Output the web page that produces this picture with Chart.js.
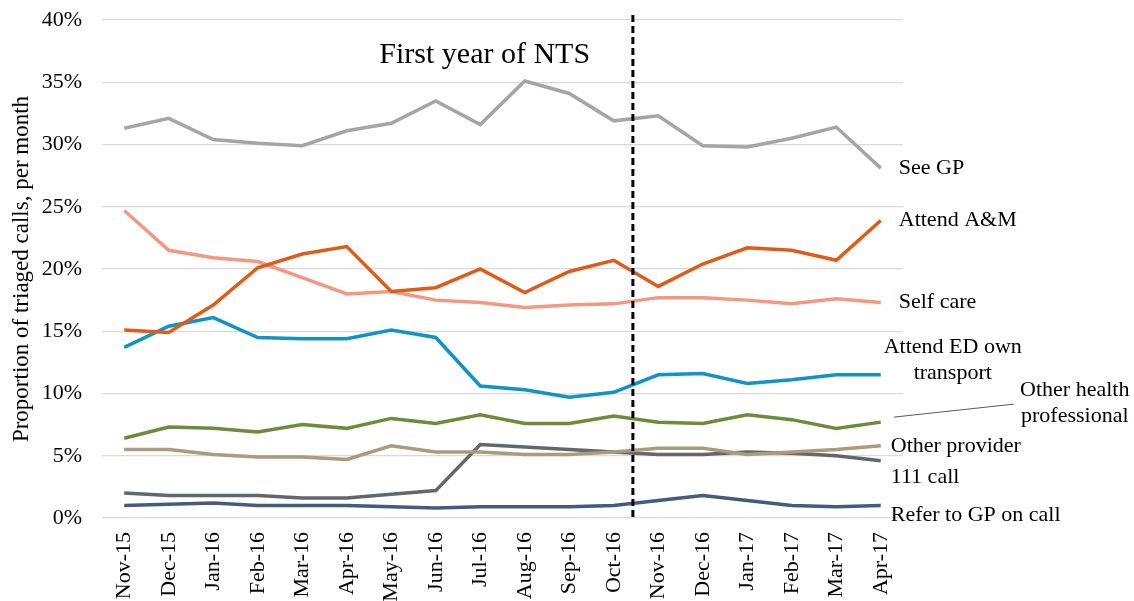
<!DOCTYPE html>
<html>
<head>
<meta charset="utf-8">
<script src="https://cdn.jsdelivr.net/npm/chart.js@4/dist/chart.umd.min.js"></script>
<style>
  html, body { margin: 0; padding: 0; background: #fff; }
  #wrap { width: 1134px; height: 601px; }
</style>
</head>
<body>
<div id="wrap"><canvas id="nts"></canvas></div>
<script>
const FONT = "'Liberation Serif', 'DejaVu Serif', serif";

const months = ['Nov-15', 'Dec-15', 'Jan-16', 'Feb-16', 'Mar-16', 'Apr-16', 'May-16', 'Jun-16', 'Jul-16',
  'Aug-16', 'Sep-16', 'Oct-16', 'Nov-16', 'Dec-16', 'Jan-17', 'Feb-17', 'Mar-17', 'Apr-17'];

const seeGP = [31.3, 32.1, 30.4, 30.1, 29.9, 31.1, 31.7, 33.5, 31.6, 35.1, 34.1, 31.9, 32.3, 29.9, 29.8, 30.5, 31.4, 28.1];
const attendAM = [15.1, 14.9, 17.1, 20.1, 21.2, 21.8, 18.2, 18.5, 20.0, 18.1, 19.8, 20.7, 18.6, 20.4, 21.7, 21.5, 20.7, 23.9];
const selfCare = [24.7, 21.5, 20.9, 20.6, 19.3, 18.0, 18.2, 17.5, 17.3, 16.9, 17.1, 17.2, 17.7, 17.7, 17.5, 17.2, 17.6, 17.3];
const attendED = [13.7, 15.4, 16.1, 14.5, 14.4, 14.4, 15.1, 14.5, 10.6, 10.3, 9.7, 10.1, 11.5, 11.6, 10.8, 11.1, 11.5, 11.5];
const otherHealth = [6.4, 7.3, 7.2, 6.9, 7.5, 7.2, 8.0, 7.6, 8.3, 7.6, 7.6, 8.2, 7.7, 7.6, 8.3, 7.9, 7.2, 7.7];
const otherProvider = [5.5, 5.5, 5.1, 4.9, 4.9, 4.7, 5.8, 5.3, 5.3, 5.1, 5.1, 5.3, 5.6, 5.6, 5.1, 5.3, 5.5, 5.8];
const call111 = [2.0, 1.8, 1.8, 1.8, 1.6, 1.6, 1.9, 2.2, 5.9, 5.7, 5.5, 5.3, 5.1, 5.1, 5.3, 5.2, 5.0, 4.6];
const referGP = [1.0, 1.1, 1.2, 1.0, 1.0, 1.0, 0.9, 0.8, 0.9, 0.9, 0.9, 1.0, 1.4, 1.8, 1.4, 1.0, 0.9, 1.0];

const yTicks = [0, 5, 10, 15, 20, 25, 30, 35, 40];

// end-of-line labels: text lines, x/y offset from last point, alignment
const seriesInfo = [
  { label: 'See GP', data: seeGP, color: '#a5a5a5', text: ['See GP'], dx: 18, dy: 0, align: 'left' },
  { label: 'Attend A&M', data: attendAM, color: '#e05b17', text: ['Attend A&M'], dx: 18, dy: 0, align: 'left' },
  { label: 'Self care', data: selfCare, color: '#f4987f', text: ['Self care'], dx: 18, dy: 0, align: 'left' },
  { label: 'Attend ED own transport', data: attendED, color: '#1093c6', text: ['Attend ED own', 'transport'], dx: 72, dy: -28, align: 'center' },
  { label: 'Other health professional', data: otherHealth, color: '#6b8d3b', text: ['Other health', 'professional'], dx: 194, dy: -32, align: 'center' },
  { label: 'Other provider', data: otherProvider, color: '#aa9b7f', text: ['Other provider'], dx: 10, dy: 0, align: 'left' },
  { label: '111 call', data: call111, color: '#62666d', text: ['111 call'], dx: 10, dy: 16, align: 'left' },
  { label: 'Refer to GP on call', data: referGP, color: '#445a7e', text: ['Refer to GP on call'], dx: 10, dy: 10, align: 'left' }
];

const annotations = {
  id: 'annotations',
  afterDatasetsDraw(chart) {
    const { ctx, scales: { x, y }, chartArea } = chart;
    ctx.save();

    // dashed separator between Oct-16 and Nov-16
    const xs = x.getPixelForValue(11.43);
    ctx.strokeStyle = '#000';
    ctx.lineWidth = 3;
    ctx.setLineDash([7, 4]);
    ctx.beginPath();
    ctx.moveTo(xs, chartArea.top - 5);
    ctx.lineTo(xs, chartArea.bottom);
    ctx.stroke();
    ctx.setLineDash([]);

    ctx.fillStyle = '#000';
    ctx.font = '30px ' + FONT;
    ctx.textAlign = 'center';
    ctx.textBaseline = 'middle';
    ctx.fillText('First year of NTS', x.getPixelForValue(8.1), y.getPixelForValue(37.2));

    // labels at the end of each line
    ctx.font = '22px ' + FONT;
    const last = months.length - 1;
    seriesInfo.forEach((s) => {
      const px = x.getPixelForValue(last) + s.dx;
      const py = y.getPixelForValue(s.data[last]) + s.dy;
      ctx.textAlign = s.align;
      s.text.forEach((t, i) => ctx.fillText(t, px, py + i * 26));
    });

    // leader line for "Other health professional"
    const lx = x.getPixelForValue(last);
    ctx.strokeStyle = '#595959';
    ctx.lineWidth = 1;
    ctx.beginPath();
    ctx.moveTo(lx + 13, y.getPixelForValue(otherHealth[last]) - 5);
    ctx.lineTo(lx + 133, y.getPixelForValue(otherHealth[last]) - 18);
    ctx.stroke();
    ctx.restore();
  }
};

new Chart(document.getElementById('nts'), {
  type: 'line',
  data: {
    labels: months,
    datasets: seriesInfo.map((s) => ({
      label: s.label,
      data: s.data,
      borderColor: s.color,
      backgroundColor: s.color,
      borderWidth: 3.5,
      pointRadius: 0,
      tension: 0
    }))
  },
  options: {
    responsive: true,
    maintainAspectRatio: false,
    animation: false,
    layout: { padding: { top: 20, right: 231, left: 0, bottom: 0 } },
    plugins: {
      legend: { display: false },
      tooltip: { enabled: false }
    },
    scales: {
      x: {
        offset: true,
        grid: { display: false },
        border: { display: false },
        ticks: {
          color: '#000',
          font: { family: FONT, size: 22 },
          minRotation: 90,
          maxRotation: 90,
          padding: 6,
          autoSkip: false
        },
        afterFit: (scale) => { scale.height = 83; scale.paddingLeft = 0; scale.paddingRight = 0; }
      },
      y: {
        min: 0,
        max: 40,
        afterBuildTicks: (scale) => { scale.ticks = yTicks.map((v) => ({ value: v })); },
        grid: { color: '#d9d9d9', lineWidth: 1.3, drawTicks: false },
        border: { display: false },
        ticks: {
          color: '#000',
          font: { family: FONT, size: 22 },
          padding: 20,
          callback: (v) => v + '%'
        },
        title: {
          display: true,
          text: 'Proportion of triaged calls, per month',
          color: '#000',
          font: { family: FONT, size: 23 },
          padding: { top: 8, bottom: 6 }
        },
        afterFit: (scale) => { scale.width = 102; scale.paddingTop = 0; scale.paddingBottom = 0; }
      }
    }
  },
  plugins: [annotations]
});
</script>
</body>
</html>
